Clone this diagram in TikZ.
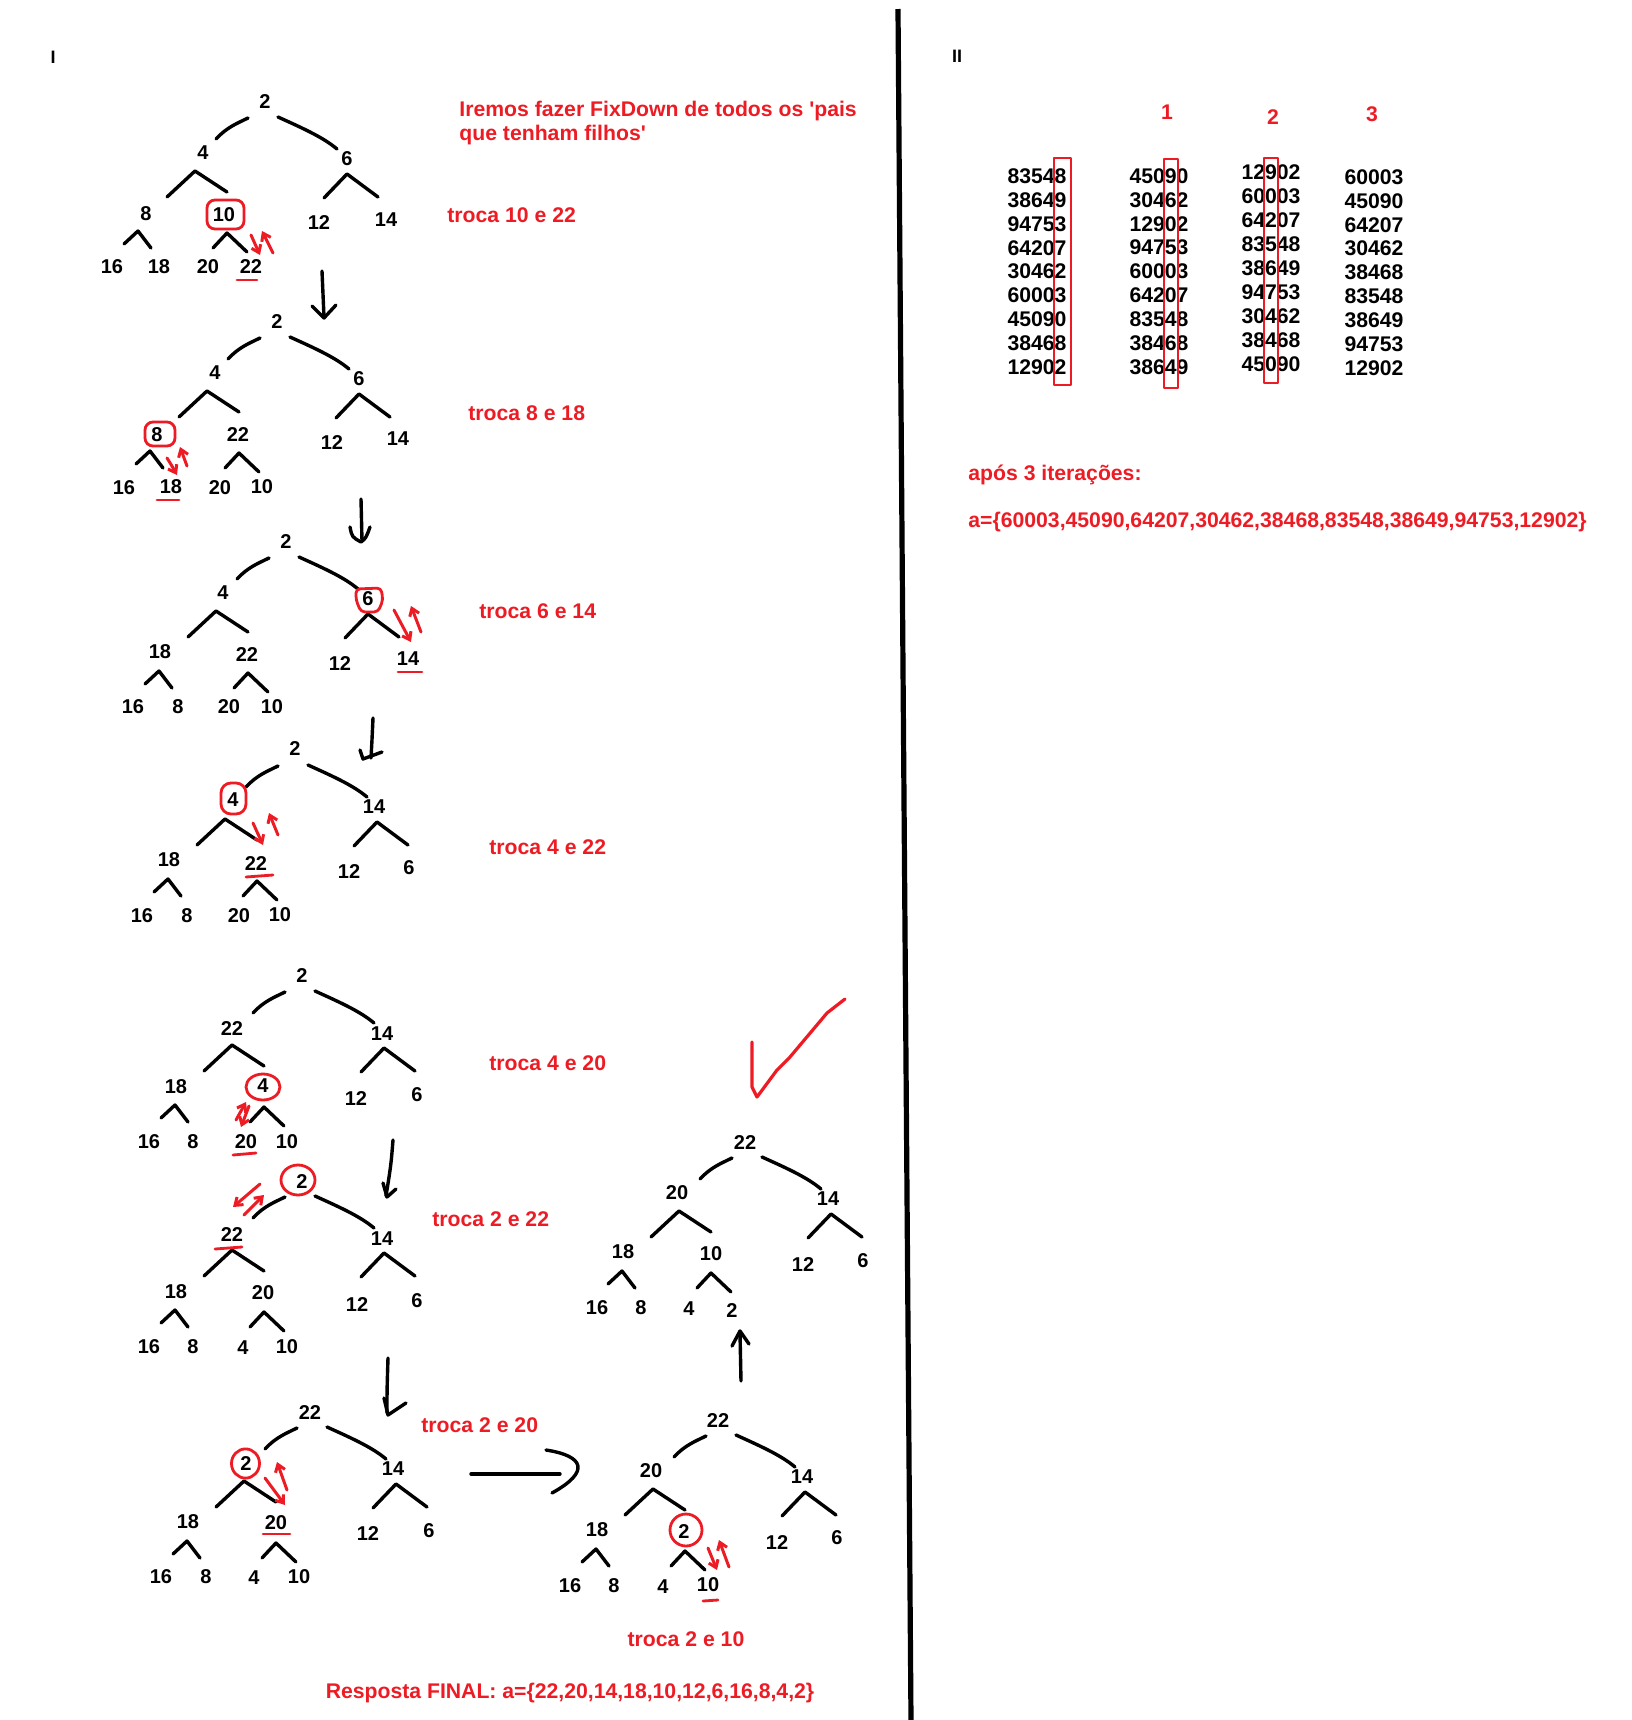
\documentclass[tikz,border=0pt]{standalone}
\usepackage{fontspec}
\setmainfont{Liberation Sans}
\usetikzlibrary{arrows.meta}
\definecolor{pen}{RGB}{237,28,36}

% node labels of one heap: name prefix, list of value/x/y
\newcommand\heaplabels[2]{%
  \foreach \v/\px/\py [count=\i] in {#2}
    \node[num] (#1-\i) at (\px,\py) {\v};}

\begin{document}
\begin{tikzpicture}[x=0.5pt,y=-0.5pt,
  num/.style={font=\bfseries\fontsize{10}{12}\selectfont, inner sep=0pt},
  cell/.style={font=\bfseries\fontsize{10.6}{12}\selectfont, inner sep=0pt},
  note/.style={font=\bfseries\fontsize{10.6}{13}\selectfont, text=pen, inner sep=0pt, anchor=base west},
  edge/.style={line width=1.7pt, line cap=round, line join=round},
  redline/.style={draw=pen, line width=1.4pt, line cap=round, line join=round},
  swap/.style={redline, line width=1.5pt, -{Straight Barb[length=3.5pt,width=5pt]}},
  heapframe/.pic={
    \draw[edge] (-17,16) .. controls (-27,21) and (-38,25) .. (-49,37);
    \draw[edge] (13,15) .. controls (35,25) and (58,35) .. (72,47);
    \draw[edge] (-98,95) -- (-70,69) -- (-38,90);
    \draw[edge] (59,96) -- (82,72) -- (113,95);
    \draw[edge] (-141,142) -- (-127,129) -- (-114,146);
    \draw[edge] (-52,146) -- (-38,131) -- (-18,150);
  }]

\fill[white] (0,0) rectangle (1632,1720);
\useasboundingbox (0,0) rectangle (1632,1720);

% ---------- part I ----------
\node[num, font=\bfseries\fontsize{9}{10}\selectfont] (partI) at (53,57) {I};

% heap 1
\pic at (265,102) {heapframe};
\heaplabels{T1}{2/265/102, 4/203/153, 6/347/159, 8/146/214, 10/224/215, 12/319/223,
  14/386/220, 16/112/267, 18/159/267, 20/208/267, 22/251/267}
\draw[redline, rounded corners=4pt] (207,200) rectangle (244,229);
\draw[swap] (251,235) -- (260,255);
\draw[swap] (273,253) -- (262,231);
\draw[redline] (237,280) -- (257,280);
\node[note] (n0a) at (459,116.5) {Iremos fazer FixDown de todos os \textquotesingle pais};
\node[note] (n0b) at (459,140.5) {que tenham filhos\textquotesingle};
\node[note] (n1) at (447,222.5) {troca 10 e 22};

\draw[edge] (322,271) -- (324,317);
\draw[edge] (312,306) -- (324,318) -- (336,305);

% heap 2
\pic at (277,322) {heapframe};
\heaplabels{T2}{2/277/322, 4/215/373, 6/359/379, 8/157/435, 22/238/435, 12/332/443,
  14/398/439, 16/124/488, 18/171/487, 20/220/488, 10/262/487}
\draw[redline, rounded corners=4pt] (145,422) rectangle (175,446);
\draw[swap] (167,458) .. controls (172,466) .. (177,475);
\draw[swap] (187,466) -- (180,447);
\draw[redline] (157,500) -- (179,500);
\node[note] (n2) at (468,420.5) {troca 8 e 18};

\draw[edge] (361,499) -- (362,541);
\draw[edge] (350,527) .. controls (352,537) .. (361,542) .. controls (366,538) .. (370,527);

% heap 3
\pic at (286,542) {heapframe};
\heaplabels{T3}{2/286/542, 4/223/593, 6/368/599, 18/160/652, 22/247/655, 12/340/664,
  14/408/659, 16/133/707, 8/178/707, 20/229/707, 10/272/707}
\draw[redline, rounded corners=2pt] (356,589) -- (381,588) -- (383,600) -- (378,612)
  -- (361,612) -- (356,600) -- cycle;
\draw[swap] (394,610) -- (411,642);
\draw[swap] (421,632) -- (411,606);
\draw[redline] (398,672) -- (422,672);
\node[note] (n3) at (479,618.5) {troca 6 e 14};

\draw[edge] (373,718) .. controls (372,740) .. (371,758);
\draw[edge] (360,750) -- (363,759) -- (382,752);

% heap 4
\pic at (295,750) {heapframe};
\heaplabels{T4}{2/295/749, 4/233/800, 14/374/807, 18/169/860, 22/256/864, 12/349/872,
  6/409/868, 16/142/916, 8/187/916, 20/239/916, 10/280/915}
\draw[redline, rounded corners=5pt] (221,783) rectangle (246,814);
\draw[swap] (253,823) -- (263,845);
\draw[swap] (278,835) -- (269,813);
\draw[redline] (246,877) -- (273,875);
\node[note] (n4) at (489,854.5) {troca 4 e 22};

% heap 5
\pic at (302,976) {heapframe};
\heaplabels{T5}{2/302/976, 22/232/1029, 14/382/1034, 18/176/1087, 4/263/1086, 12/356/1099,
  6/417/1095, 16/149/1142, 8/193/1142, 20/246/1142, 10/287/1142}
\draw[redline] (263,1087) ellipse [x radius=8.5pt, y radius=6.5pt];
\draw[swap] (249,1106) -- (241,1127);
\draw[swap] (236,1120) -- (246,1102);
\draw[redline] (233,1155) -- (256,1153);
\node[note] (n5) at (489,1070.5) {troca 4 e 20};

\draw[edge] (393,1140) .. controls (391,1165) .. (386,1196);
\draw[edge] (383,1183) -- (387,1197) -- (396,1189);

% heap 6
\pic at (302,1181) {heapframe};
\heaplabels{T6}{2/302/1181, 22/232/1235, 14/382/1239, 18/176/1292, 20/263/1293, 12/357/1304,
  6/417/1301, 16/149/1347, 8/193/1347, 4/243/1348, 10/287/1347}
\draw[redline] (298,1180) ellipse [x radius=8.5pt, y radius=7.5pt];
\draw[swap] (260,1184) -- (233,1207);
\draw[swap] (244,1215) -- (264,1195);
\draw[redline] (215,1249) -- (242,1247);
\node[note] (n6) at (432,1226.5) {troca 2 e 22};

\draw[edge] (388,1358) .. controls (387,1390) .. (387,1413);
\draw[edge] (384,1398) -- (388,1415) -- (406,1403);

% heap 7
\pic at (314,1412) {heapframe};
\heaplabels{T7}{22/310/1412, 2/246/1463, 14/393/1469, 18/188/1522, 20/276/1523, 12/368/1533,
  6/429/1531, 16/161/1577, 8/206/1577, 4/254/1578, 10/299/1577}
\draw[redline] (245.5,1463.5) ellipse [x radius=7pt, y radius=7.3pt];
\draw[swap] (265,1478) -- (285,1505);
\draw[swap] (287,1490) -- (277,1462);
\draw[redline] (263,1534) -- (290,1534);
\node[note] (n7) at (421,1432.5) {troca 2 e 20};

\draw[edge] (471,1474) -- (560,1474);
\draw[edge] (546,1450) .. controls (585,1456) and (590,1472) .. (552,1493);

% heap 8
\pic at (723,1420) {heapframe};
\heaplabels{T8}{22/718/1420, 20/651/1471, 14/802/1477, 18/597/1530, 2/684/1531, 12/777/1542,
  6/837/1538, 16/570/1586, 8/614/1586, 4/663/1587, 10/708/1585}
\draw[redline] (686,1530) ellipse [x radius=8pt, y radius=8pt];
\draw[swap] (708,1548) -- (717,1570);
\draw[swap] (729,1567) -- (719,1540);
\draw[redline] (703,1601) -- (718,1600);
\node[note, anchor=base] (n8) at (686,1646.5) {troca 2 e 10};

\draw[edge] (741,1381) -- (740,1333);
\draw[edge] (732,1346) -- (740,1331) -- (749,1344);

% heap 9 (result)
\pic at (749,1142) {heapframe};
\heaplabels{T9}{22/745/1143, 20/677/1193, 14/828/1199, 18/623/1252, 10/711/1254, 12/803/1264,
  6/863/1261, 16/597/1308, 8/641/1308, 4/689/1309, 2/732/1310}
\draw[redline, line width=1.6pt] (752,1042) -- (752,1087) -- (757,1097) -- (777,1070)
  -- (790,1057) -- (827,1013) -- (845,999);

\node[note, anchor=base] (final) at (570,1698.5)
  {Resposta FINAL: a=\{22,20,14,18,10,12,6,16,8,4,2\}};

% ---------- divider ----------
\draw[line width=2.6pt] (898,9) -- (911,1720);

% ---------- part II ----------
\node[num, font=\bfseries\fontsize{9}{10}\selectfont] (partII) at (957,56) {II};

\node[cell, text=pen] (h1) at (1167,112) {1};
\node[cell, text=pen] (h2) at (1273,117) {2};
\node[cell, text=pen] (h3) at (1372,114) {3};

\foreach \v [count=\i from 0] in {83548,38649,94753,64207,30462,60003,45090,38468,12902}
  \node[cell] (c0-\i) at (1037,176+23.9*\i) {\v};
\foreach \v [count=\i from 0] in {45090,30462,12902,94753,60003,64207,83548,38468,38649}
  \node[cell] (c1-\i) at (1159,176+23.9*\i) {\v};
\foreach \v [count=\i from 0] in {12902,60003,64207,83548,38649,94753,30462,38468,45090}
  \node[cell] (c2-\i) at (1271,172+24*\i) {\v};
\foreach \v [count=\i from 0] in {60003,45090,64207,30462,38468,83548,38649,94753,12902}
  \node[cell] (c3-\i) at (1374,177+23.9*\i) {\v};

\draw[redline, line width=1.3pt] (1054,158) rectangle (1071,385);
\draw[redline, line width=1.3pt] (1164,159) rectangle (1178,388);
\draw[redline, line width=1.3pt] (1264,158) rectangle (1278,383);

\node[note] (iter) at (968,480.5) {após 3 iterações:};
\node[note] (arr) at (968,527.5) {a=\{60003,45090,64207,30462,38468,83548,38649,94753,12902\}};
\end{tikzpicture}
\end{document}
